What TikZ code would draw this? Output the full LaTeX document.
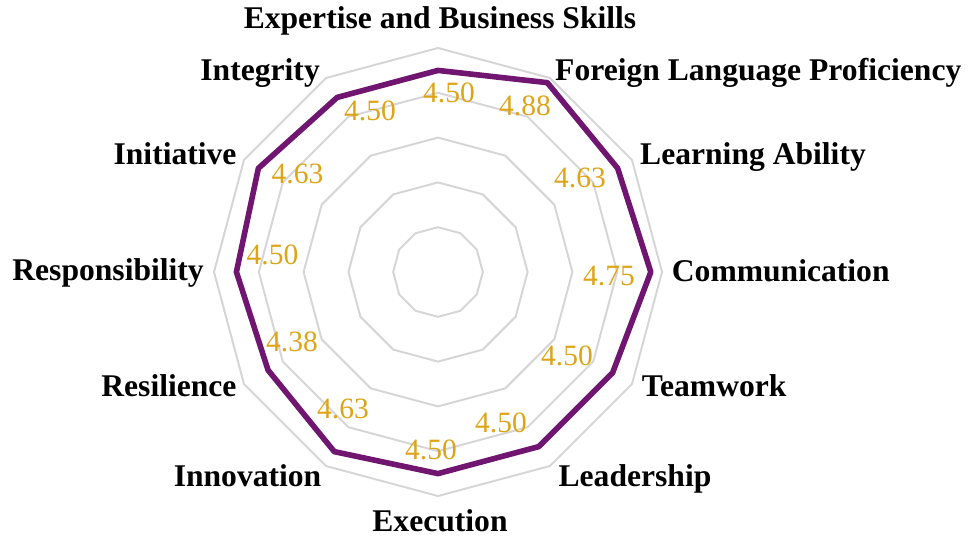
\documentclass[tikz,border=0pt]{standalone}
\usepackage{fontspec}
\setmainfont{Liberation Serif}
\definecolor{ringgray}{RGB}{214,214,214}
\definecolor{datapurple}{RGB}{112,22,112}
\definecolor{valgold}{RGB}{222,164,24}
\tikzset{
  ringline/.style={draw=ringgray, line width=2pt, line join=round},
  dataline/.style={draw=datapurple, line width=5.6pt, line join=round},
  axislabel/.style={inner sep=0pt, font=\fontsize{31.6}{36}\selectfont\bfseries, text=black},
  vallabel/.style={inner sep=0pt, anchor=center, font=\fontsize{29.5}{34}\selectfont, text=valgold}
}
\begin{document}
\begin{tikzpicture}[x=1pt, y=-1pt]
\useasboundingbox (0,0) rectangle (971,538);
\coordinate (c) at (438,272);
% grid rings
\foreach \lev in {1,...,5}{
  \draw[ringline] ({438+\lev*44.8*cos(90)},{272-\lev*44.8*sin(90)})
    \foreach \a in {60,30,...,-240}{ -- ({438+\lev*44.8*cos(\a)},{272-\lev*44.8*sin(\a)}) } -- cycle;
}
% data vertices
\foreach \v [count=\i from 0] in {4.50,4.88,4.63,4.75,4.50,4.50,4.50,4.63,4.38,4.50,4.63,4.50}{
  \coordinate (p\i) at ({438+\v*44.8*cos(90-30*\i)},{272-\v*44.8*sin(90-30*\i)});
}
\draw[dataline] (p0) -- (p1) -- (p2) -- (p3) -- (p4) -- (p5) -- (p6) -- (p7) -- (p8) -- (p9) -- (p10) -- (p11) -- cycle;
% value labels
\node[vallabel] (v0) at (449,93) {4.50};
\node[vallabel] (v1) at (525,106) {4.88};
\node[vallabel] (v2) at (580,178) {4.63};
\node[vallabel] (v3) at (609,276) {4.75};
\node[vallabel] (v4) at (567,356) {4.50};
\node[vallabel] (v5) at (501,423) {4.50};
\node[vallabel] (v6) at (431,450) {4.50};
\node[vallabel] (v7) at (343,409) {4.63};
\node[vallabel] (v8) at (292,342) {4.38};
\node[vallabel] (v9) at (272.5,255) {4.50};
\node[vallabel] (v10) at (297.5,174) {4.63};
\node[vallabel] (v11) at (370,111) {4.50};
% axis labels
\node[axislabel, anchor=base] (l0) at (440,28.3) {Expertise and Business Skills};
\node[axislabel, anchor=base west] (l1) at (555,80) {Foreign Language Proficiency};
\node[axislabel, anchor=base west] (l2) at (640,164) {Learning Ability};
\node[axislabel, anchor=base west] (l3) at (671.7,281.7) {Communication};
\node[axislabel, anchor=base west] (l4) at (641.7,396.7) {Teamwork};
\node[axislabel, anchor=base west] (l5) at (558.4,486.5) {Leadership};
\node[axislabel, anchor=base] (l6) at (440,531.5) {Execution};
\node[axislabel, anchor=base east] (l7) at (321.5,486.5) {Innovation};
\node[axislabel, anchor=base east] (l8) at (236.7,396.7) {Resilience};
\node[axislabel, anchor=base east] (l9) at (204,280) {Responsibility};
\node[axislabel, anchor=base east] (l10) at (236.7,164.3) {Initiative};
\node[axislabel, anchor=base east] (l11) at (320,80) {Integrity};
\end{tikzpicture}
\end{document}
